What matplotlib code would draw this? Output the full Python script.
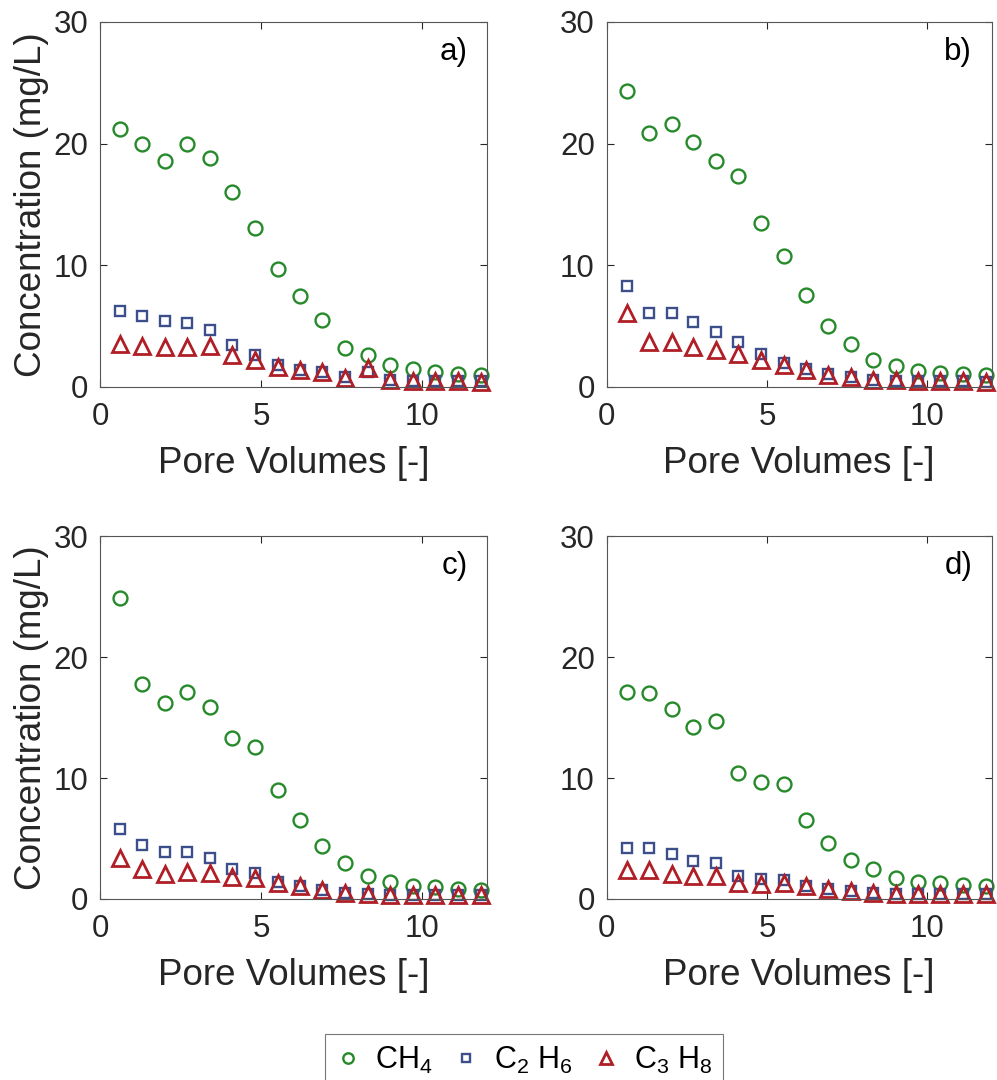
import matplotlib
matplotlib.use('Agg')
from matplotlib import pyplot as plt
import numpy as np

plt.rcParams['font.family'] = ['Liberation Sans', 'DejaVu Sans']
plt.rcParams['mathtext.fontset'] = 'custom'
plt.rcParams['mathtext.rm'] = 'Liberation Sans'
plt.rcParams['mathtext.it'] = 'Liberation Sans'
plt.rcParams['mathtext.default'] = 'regular'

# pore volumes (same sampling for every column)
pv = [0.62, 1.31, 2.03, 2.70, 3.42, 4.11, 4.80, 5.52, 6.20, 6.90, 7.61, 8.31, 9.01, 9.70, 10.40, 11.10, 11.82]

ch4_a = [21.2, 20.0, 18.6, 20.0, 18.8, 16.0, 13.1, 9.7, 7.5, 5.5, 3.2, 2.6, 1.8, 1.45, 1.2, 1.1, 0.96]
c2h6_a = [6.25, 5.87, 5.43, 5.26, 4.7, 3.43, 2.63, 1.78, 1.37, 1.2, 0.82, 1.23, 0.55, 0.5, 0.5, 0.45, 0.45]
c3h8_a = [3.5, 3.4, 3.3, 3.3, 3.4, 2.6, 2.25, 1.65, 1.37, 1.2, 0.74, 1.56, 0.55, 0.5, 0.45, 0.45, 0.4]

ch4_b = [24.3, 20.9, 21.6, 20.1, 18.6, 17.3, 13.5, 10.8, 7.55, 5.0, 3.5, 2.2, 1.7, 1.3, 1.15, 1.05, 0.95]
c2h6_b = [8.3, 6.1, 6.1, 5.3, 4.5, 3.7, 2.75, 2.0, 1.45, 1.05, 0.8, 0.6, 0.5, 0.5, 0.45, 0.45, 0.4]
c3h8_b = [6.1, 3.7, 3.7, 3.3, 3.0, 2.75, 2.25, 1.8, 1.4, 1.0, 0.8, 0.6, 0.55, 0.5, 0.45, 0.45, 0.4]

ch4_c = [24.9, 17.8, 16.2, 17.1, 15.9, 13.35, 12.55, 9.0, 6.55, 4.35, 2.95, 1.9, 1.43, 1.07, 0.96, 0.85, 0.75]
c2h6_c = [5.8, 4.5, 3.85, 3.9, 3.35, 2.47, 2.17, 1.43, 1.07, 0.75, 0.47, 0.4, 0.35, 0.35, 0.3, 0.3, 0.3]
c3h8_c = [3.35, 2.45, 2.05, 2.25, 2.17, 1.8, 1.75, 1.3, 1.07, 0.75, 0.5, 0.4, 0.35, 0.3, 0.3, 0.3, 0.3]

ch4_d = [17.1, 17.0, 15.7, 14.2, 14.7, 10.4, 9.7, 9.5, 6.55, 4.6, 3.2, 2.45, 1.75, 1.43, 1.3, 1.15, 1.05]
c2h6_d = [4.2, 4.2, 3.7, 3.15, 3.0, 1.9, 1.65, 1.6, 1.1, 0.8, 0.7, 0.5, 0.45, 0.4, 0.4, 0.4, 0.4]
c3h8_d = [2.4, 2.4, 2.1, 1.9, 1.9, 1.3, 1.25, 1.35, 1.1, 0.85, 0.7, 0.5, 0.45, 0.4, 0.4, 0.4, 0.4]

panel_labels = ['a)', 'b)', 'c)', 'd)']
series_labels = ['CH$_4$', 'C$_2$ H$_6$', 'C$_3$ H$_8$']
data = [(ch4_a, c2h6_a, c3h8_a), (ch4_b, c2h6_b, c3h8_b),
        (ch4_c, c2h6_c, c3h8_c), (ch4_d, c2h6_d, c3h8_d)]

green = '#268A2A'
blue = '#3C4F8A'
red = '#B01E26'
dark = '#262626'

fig = plt.figure(figsize=(9.97, 10.8), dpi=100)
rects = [[0.1003, 0.6417, 0.388, 0.338],
         [0.6085, 0.6417, 0.386, 0.338],
         [0.1003, 0.1676, 0.388, 0.336],
         [0.6085, 0.1676, 0.386, 0.336]]

handles = []
for i in range(4):
	ax = fig.add_axes(rects[i])
	ch4, c2h6, c3h8 = data[i]
	h1, = ax.plot(pv, ch4, 'o', mfc='none', mec=green, ms=10, mew=1.7, clip_on=False)
	h2, = ax.plot(pv, c2h6, 's', mfc='none', mec=blue, ms=7, mew=1.7, clip_on=False)
	h3, = ax.plot(pv, c3h8, '^', mfc='none', mec=red, ms=11, mew=2.0, clip_on=False)
	handles = [h1, h2, h3]
	ax.set_xlim(0, 12)
	ax.set_ylim(0, 30)
	ax.set_xticks([0, 5, 10])
	ax.set_yticks([0, 10, 20, 30])
	ax.tick_params(direction='in', top=True, right=True, labelsize=22.5, colors=dark,
		length=5, width=0.8)
	ax.tick_params(axis='x', pad=11)
	ax.tick_params(axis='y', pad=8.5)
	for s in ax.spines.values():
		s.set_color('#555555')
		s.set_linewidth(0.8)
	ax.set_xlabel('Pore Volumes [-]', fontsize=26.5, color=dark, labelpad=10)
	if i % 2 == 0:
		ax.set_ylabel('Concentration (mg/L)', fontsize=26.5, color=dark, labelpad=3)
	ax.text(0.95, 0.918, panel_labels[i], transform=ax.transAxes, ha='right', va='center',
		fontsize=22.5, color='black')

leg = fig.legend(handles, series_labels, loc='upper center', bbox_to_anchor=(0.5256, 0.0565),
	ncol=3, fontsize=22, frameon=True, fancybox=False, handlelength=0.8,
	handletextpad=0.5, columnspacing=0.7, borderpad=0.35, markerscale=0.75)
leg.get_frame().set_edgecolor('#555555')
leg.get_frame().set_linewidth(0.8)

fig.savefig('out.png', dpi=100)
